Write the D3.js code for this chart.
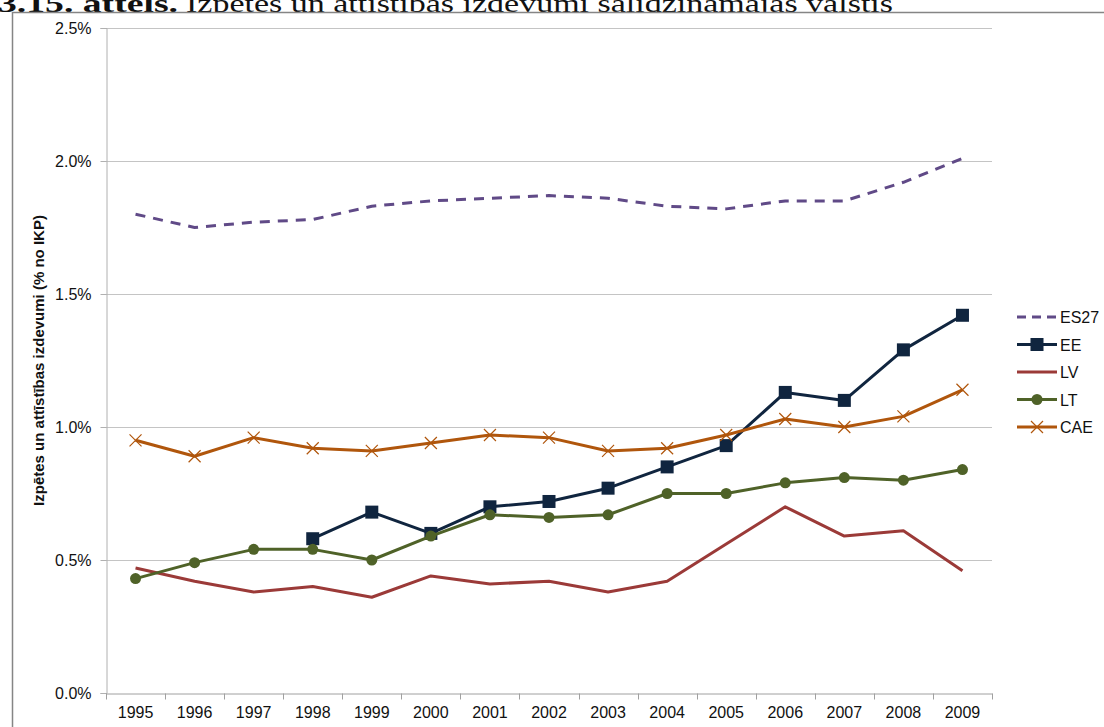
<!DOCTYPE html>
<html>
<head>
<meta charset="utf-8">
<script src="https://cdn.jsdelivr.net/npm/d3@7"></script>
<style>
  body { margin: 0; background: #fff; }
  #chart { width: 1104px; height: 727px; }
  .tick text { font-family: "Liberation Sans", Arial, sans-serif; font-size: 16px; fill: #111; }
</style>
</head>
<body>
<div id="chart"></div>
<script>
// data (R&D spending, % of GDP)
const years = [1995, 1996, 1997, 1998, 1999, 2000, 2001, 2002, 2003, 2004, 2005, 2006, 2007, 2008, 2009];
const es27 = [1.80, 1.75, 1.77, 1.78, 1.83, 1.85, 1.86, 1.87, 1.86, 1.83, 1.82, 1.85, 1.85, 1.92, 2.01];
const ee = [null, null, null, 0.58, 0.68, 0.60, 0.70, 0.72, 0.77, 0.85, 0.93, 1.13, 1.10, 1.29, 1.42];
const lv = [0.47, 0.42, 0.38, 0.40, 0.36, 0.44, 0.41, 0.42, 0.38, 0.42, 0.56, 0.70, 0.59, 0.61, 0.46];
const lt = [0.43, 0.49, 0.54, 0.54, 0.50, 0.59, 0.67, 0.66, 0.67, 0.75, 0.75, 0.79, 0.81, 0.80, 0.84];
const cae = [0.95, 0.89, 0.96, 0.92, 0.91, 0.94, 0.97, 0.96, 0.91, 0.92, 0.97, 1.03, 1.00, 1.04, 1.14];
const yTicks = [0, 0.5, 1.0, 1.5, 2.0, 2.5];

const seriesNames = ["ES27", "EE", "LV", "LT", "CAE"];
const seriesValues = [es27, ee, lv, lt, cae];
const seriesColors = ["#604a87", "#10253f", "#9b3a38", "#4f6228", "#b0560c"];
const seriesMarkers = ["none", "square", "none", "circle", "cross"];

const width = 1104, height = 727;
const margin = { top: 28, left: 106, right: 112, bottom: 34 };

const svg = d3.select("#chart").append("svg")
    .attr("width", width)
    .attr("height", height);

// title (cut by the chart box, as in the report)
const title = svg.append("text")
    .attr("y", 12)
    .attr("font-family", "Liberation Serif, serif")
    .attr("font-size", 26)
    .attr("fill", "#111");
title.append("tspan").attr("x", -2).attr("font-weight", "bold")
    .attr("textLength", 180).attr("lengthAdjust", "spacingAndGlyphs")
    .text("3.15. attēls.");
title.append("tspan").attr("x", 186)
    .attr("textLength", 707).attr("lengthAdjust", "spacingAndGlyphs")
    .text("Izpētes un attīstības izdevumi salīdzināmajās valstīs");

// chart box
svg.append("rect")
    .attr("x", 12.5).attr("y", 12.5)
    .attr("width", 1100).attr("height", 730)
    .attr("fill", "#fff")
    .attr("stroke", "#858585")
    .attr("stroke-width", 1.5);

const xScale = d3.scaleBand()
    .domain(years)
    .range([margin.left, width - margin.right])
    .padding(0);
const cx = d => xScale(d) + xScale.bandwidth() / 2;

const yScale = d3.scaleLinear()
    .domain([0, 2.5])
    .range([height - margin.bottom, margin.top]);

// gridlines
svg.append("g")
    .selectAll("line")
    .data(yTicks.slice(1))
    .enter().append("line")
    .attr("x1", margin.left).attr("x2", width - margin.right)
    .attr("y1", d => Math.round(yScale(d)) + 0.5)
    .attr("y2", d => Math.round(yScale(d)) + 0.5)
    .attr("stroke", "#c4c4c4");

// y axis
const yAxis = svg.append("g")
    .attr("transform", `translate(${margin.left + 0.5},0)`)
    .call(d3.axisLeft(yScale).tickValues(yTicks).tickSize(6).tickPadding(9)
        .tickFormat(d => d.toFixed(1) + "%"));
yAxis.select(".domain").attr("stroke", "#b0b0b0");
yAxis.selectAll(".tick line").attr("stroke", "#b0b0b0");

// x axis: labels centred, ticks at category boundaries
const xAxis = svg.append("g")
    .attr("transform", `translate(0,${Math.round(yScale(0)) + 0.5})`)
    .call(d3.axisBottom(xScale).tickSize(0).tickPadding(13));
xAxis.select(".domain").attr("stroke", "#a0a0a0");
xAxis.selectAll(".bound")
    .data(years.concat([null]))
    .enter().append("line")
    .attr("class", "bound")
    .attr("x1", (d, i) => Math.round(margin.left + i * xScale.bandwidth()) + 0.5)
    .attr("x2", (d, i) => Math.round(margin.left + i * xScale.bandwidth()) + 0.5)
    .attr("y1", 0).attr("y2", 6)
    .attr("stroke", "#a0a0a0");

// y axis label
svg.append("text")
    .attr("transform", "rotate(-90)")
    .attr("x", -(yScale(0) + yScale(2.5)) / 2)
    .attr("y", 44)
    .attr("text-anchor", "middle")
    .attr("font-family", "Liberation Sans, Arial, sans-serif")
    .attr("font-size", 15)
    .attr("font-weight", "bold")
    .attr("fill", "#111")
    .text("Izpētes un attīstības izdevumi (% no IKP)");

const line = d3.line()
    .defined(d => d.v != null)
    .x(d => cx(d.year))
    .y(d => yScale(d.v));

function drawMarker(g, type, color, x, y) {
    if (type === "square") {
        g.append("rect").attr("x", x - 6.5).attr("y", y - 6.5)
            .attr("width", 13).attr("height", 13).attr("fill", color);
    } else if (type === "circle") {
        g.append("circle").attr("cx", x).attr("cy", y).attr("r", 5.5).attr("fill", color);
    } else if (type === "cross") {
        g.append("path")
            .attr("d", `M${x - 6},${y - 6}L${x + 6},${y + 6}M${x - 6},${y + 6}L${x + 6},${y - 6}`)
            .attr("stroke", color).attr("stroke-width", 1.2).attr("fill", "none");
    }
}

seriesNames.forEach((name, i) => {
    const pts = years.map((year, j) => ({ year: year, v: seriesValues[i][j] }));
    const g = svg.append("g");
    g.append("path")
        .datum(pts)
        .attr("d", line)
        .attr("fill", "none")
        .attr("stroke", seriesColors[i])
        .attr("stroke-width", 3)
        .attr("stroke-linejoin", "round")
        .attr("stroke-dasharray", name === "ES27" ? "10,8" : null);
    pts.filter(p => p.v != null).forEach(p => drawMarker(g, seriesMarkers[i], seriesColors[i], cx(p.year), yScale(p.v)));
});

// legend
const legend = svg.append("g").attr("transform", "translate(1017,317)");
seriesNames.forEach((name, i) => {
    const row = legend.append("g").attr("transform", `translate(0,${i * 27.5})`);
    row.append("line")
        .attr("x1", 0).attr("x2", 40).attr("y1", 0).attr("y2", 0)
        .attr("stroke", seriesColors[i]).attr("stroke-width", 3)
        .attr("stroke-dasharray", name === "ES27" ? "9,6" : null);
    drawMarker(row, seriesMarkers[i], seriesColors[i], 20, 0);
    row.append("text")
        .attr("x", 43).attr("y", 6)
        .attr("font-family", "Liberation Sans, Arial, sans-serif")
        .attr("font-size", 16)
        .attr("fill", "#111")
        .text(name);
});
</script>
</body>
</html>
